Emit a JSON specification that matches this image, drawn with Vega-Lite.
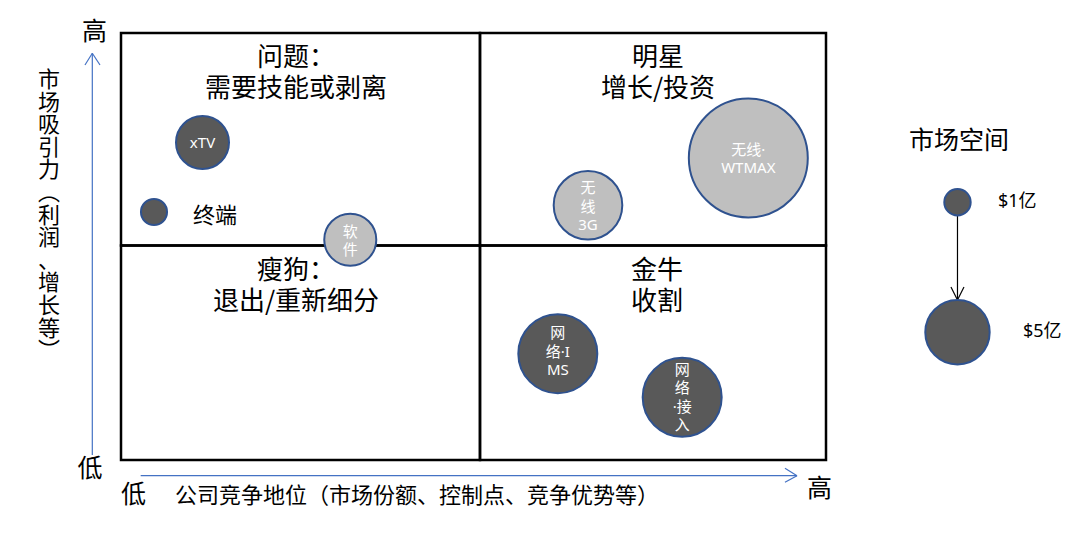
{
  "$schema": "https://vega.github.io/schema/vega-lite/v6.json",
  "width": 705,
  "height": 427,
  "autosize": {"type": "none"},
  "padding": {"left": 121, "top": 33, "right": 259, "bottom": 74},
  "background": "white",
  "config": {"view": {"stroke": null}},
  "datasets": {
    "quadrants": [
      {"q": "问题", "x": 0, "x2": 5.092, "y": 5.023, "y2": 10},
      {"q": "明星", "x": 5.092, "x2": 10, "y": 5.023, "y2": 10},
      {"q": "瘦狗", "x": 0, "x2": 5.092, "y": 0, "y2": 5.023},
      {"q": "金牛", "x": 5.092, "x2": 10, "y": 0, "y2": 5.023}
    ],
    "segments": [
      {"kind": "axis", "x": -0.407, "y": 0.117, "x2": -0.407, "y2": 9.525},
      {"kind": "axis", "x": -0.511, "y": 9.251, "x2": -0.407, "y2": 9.525},
      {"kind": "axis", "x": -0.298, "y": 9.251, "x2": -0.407, "y2": 9.525},
      {"kind": "axis", "x": 0.279, "y": -0.368, "x2": 9.589, "y2": -0.368},
      {"kind": "axis", "x": 9.418, "y": -0.194, "x2": 9.589, "y2": -0.368},
      {"kind": "axis", "x": 9.418, "y": -0.522, "x2": 9.589, "y2": -0.368},
      {"kind": "legend", "x": 11.865, "y": 5.714, "x2": 11.865, "y2": 3.747},
      {"kind": "legend", "x": 11.773, "y": 4.052, "x2": 11.865, "y2": 3.747},
      {"kind": "legend", "x": 11.957, "y": 4.052, "x2": 11.865, "y2": 3.747}
    ],
    "bubbles": [
      {"name": "xTV", "x": 1.156, "y": 7.436, "market": 3.45, "tone": "dark"},
      {"name": "终端", "x": 0.468, "y": 5.808, "market": 0.98, "tone": "dark"},
      {"name": "软件", "x": 3.252, "y": 5.159, "market": 3.33, "tone": "light"},
      {"name": "无线3G", "x": 6.624, "y": 5.965, "market": 5.65, "tone": "light"},
      {"name": "无线WTMAX", "x": 8.898, "y": 7.073, "market": 16.6, "tone": "light"},
      {"name": "网络IMS", "x": 6.196, "y": 2.489, "market": 7.43, "tone": "dark"},
      {"name": "网络接入", "x": 7.96, "y": 1.468, "market": 7.43, "tone": "dark"},
      {"name": "$1亿", "x": 11.865, "y": 6.037, "market": 1, "tone": "dark"},
      {"name": "$5亿", "x": 11.865, "y": 2.993, "market": 5, "tone": "dark"}
    ],
    "texts": [
      {"role": "inner", "text": "xTV", "x": 1.156, "y": 7.431},
      {"role": "inner", "text": "软\n件", "x": 3.252, "y": 5.347},
      {"role": "inner", "text": "无\n线\n3G", "x": 6.624, "y": 6.37},
      {"role": "inner", "text": "无线·\nWTMAX", "x": 8.898, "y": 7.26},
      {"role": "inner", "text": "网\n络·I\nMS", "x": 6.196, "y": 2.967},
      {"role": "inner", "text": "网\n络\n·接\n入", "x": 7.96, "y": 2.108},
      {"role": "quadrant", "text": "问题：\n需要技能或剥离", "x": 2.482, "y": 9.403},
      {"role": "quadrant", "text": "明星\n增长/投资", "x": 7.617, "y": 9.403},
      {"role": "quadrant", "text": "瘦狗：\n退出/重新细分", "x": 2.482, "y": 4.415},
      {"role": "quadrant", "text": "金牛\n收割", "x": 7.603, "y": 4.415},
      {"role": "end", "text": "高", "x": -0.376, "y": 10.023},
      {"role": "end", "text": "低", "x": -0.44, "y": -0.211},
      {"role": "end", "text": "低", "x": 0.177, "y": -0.82},
      {"role": "end", "text": "高", "x": 9.908, "y": -0.679},
      {"role": "xtitle", "text": "公司竞争地位（市场份额、控制点、竞争优势等）", "x": 0.766, "y": -0.843},
      {"role": "ytitle", "text": "市\n场\n吸\n引\n力\n︵\n利\n润\n、\n增\n长\n等\n︶", "x": -1.021, "y": 8.899},
      {"role": "note", "text": "终端", "x": 1.021, "y": 5.714},
      {"role": "legendTitle", "text": "市场空间", "x": 11.887, "y": 7.471},
      {"role": "legendLabel", "text": "$1亿", "x": 12.44, "y": 6.042},
      {"role": "legendLabel", "text": "$5亿", "x": 12.794, "y": 2.998}
    ]
  },
  "encoding": {
    "x": {"field": "x", "type": "quantitative", "axis": null, "scale": {"domain": [0, 10], "nice": false, "zero": false}},
    "y": {"field": "y", "type": "quantitative", "axis": null, "scale": {"domain": [0, 10], "nice": false, "zero": false}}
  },
  "layer": [
    {
      "data": {"name": "quadrants"},
      "mark": {"type": "rect", "fillOpacity": 0, "fill": "white", "stroke": "#000000", "strokeWidth": 2.5},
      "encoding": {
        "x2": {"field": "x2"},
        "y2": {"field": "y2"}
      }
    },
    {
      "data": {"name": "segments"},
      "mark": {"type": "rule", "strokeWidth": 1.2},
      "encoding": {
        "x2": {"field": "x2"},
        "y2": {"field": "y2"},
        "stroke": {"field": "kind", "type": "nominal", "legend": null, "scale": {"domain": ["axis", "legend"], "range": ["#4472C4", "#000000"]}}
      }
    },
    {
      "data": {"name": "bubbles"},
      "mark": {"type": "circle", "stroke": "#2F528F", "strokeWidth": 2, "opacity": 1, "fillOpacity": 1},
      "encoding": {
        "size": {"field": "market", "type": "quantitative", "legend": null, "scale": {"type": "linear", "domain": [1, 5], "range": [697, 4147], "zero": false}},
        "fill": {"field": "tone", "type": "nominal", "legend": null, "scale": {"domain": ["dark", "light"], "range": ["#595959", "#BFBFBF"]}}
      }
    },
    {
      "data": {"name": "texts"},
      "transform": [{"filter": "datum.role == 'inner'"}],
      "mark": {"type": "text", "lineBreak": "\n", "fontSize": 15, "lineHeight": 18.5, "fill": "#FFFFFF", "font": "Noto Sans, Noto Sans CJK SC", "align": "center", "baseline": "middle"},
      "encoding": {"text": {"field": "text"}}
    },
    {
      "data": {"name": "texts"},
      "transform": [{"filter": "datum.role == 'quadrant'"}],
      "mark": {"type": "text", "lineBreak": "\n", "fontSize": 26, "lineHeight": 31, "fill": "#000000", "font": "Noto Sans CJK SC", "align": "center", "baseline": "middle"},
      "encoding": {"text": {"field": "text"}}
    },
    {
      "data": {"name": "texts"},
      "transform": [{"filter": "datum.role == 'end'"}],
      "mark": {"type": "text", "fontSize": 25, "fill": "#000000", "font": "Noto Sans CJK SC", "align": "center", "baseline": "middle"},
      "encoding": {"text": {"field": "text"}}
    },
    {
      "data": {"name": "texts"},
      "transform": [{"filter": "datum.role == 'xtitle' || datum.role == 'note'"}],
      "mark": {"type": "text", "fontSize": 22, "fill": "#000000", "font": "Noto Sans CJK SC", "align": "left", "baseline": "middle"},
      "encoding": {"text": {"field": "text"}}
    },
    {
      "data": {"name": "texts"},
      "transform": [{"filter": "datum.role == 'ytitle'"}],
      "mark": {"type": "text", "lineBreak": "\n", "fontSize": 22, "lineHeight": 22.6, "fill": "#000000", "font": "Noto Sans CJK SC", "align": "center", "baseline": "middle"},
      "encoding": {"text": {"field": "text"}}
    },
    {
      "data": {"name": "texts"},
      "transform": [{"filter": "datum.role == 'legendTitle'"}],
      "mark": {"type": "text", "fontSize": 25, "fill": "#000000", "font": "Noto Sans CJK SC", "align": "center", "baseline": "middle"},
      "encoding": {"text": {"field": "text"}}
    },
    {
      "data": {"name": "texts"},
      "transform": [{"filter": "datum.role == 'legendLabel'"}],
      "mark": {"type": "text", "fontSize": 18, "fill": "#000000", "font": "Noto Sans, Noto Sans CJK SC", "align": "left", "baseline": "middle"},
      "encoding": {"text": {"field": "text"}}
    }
  ]
}
